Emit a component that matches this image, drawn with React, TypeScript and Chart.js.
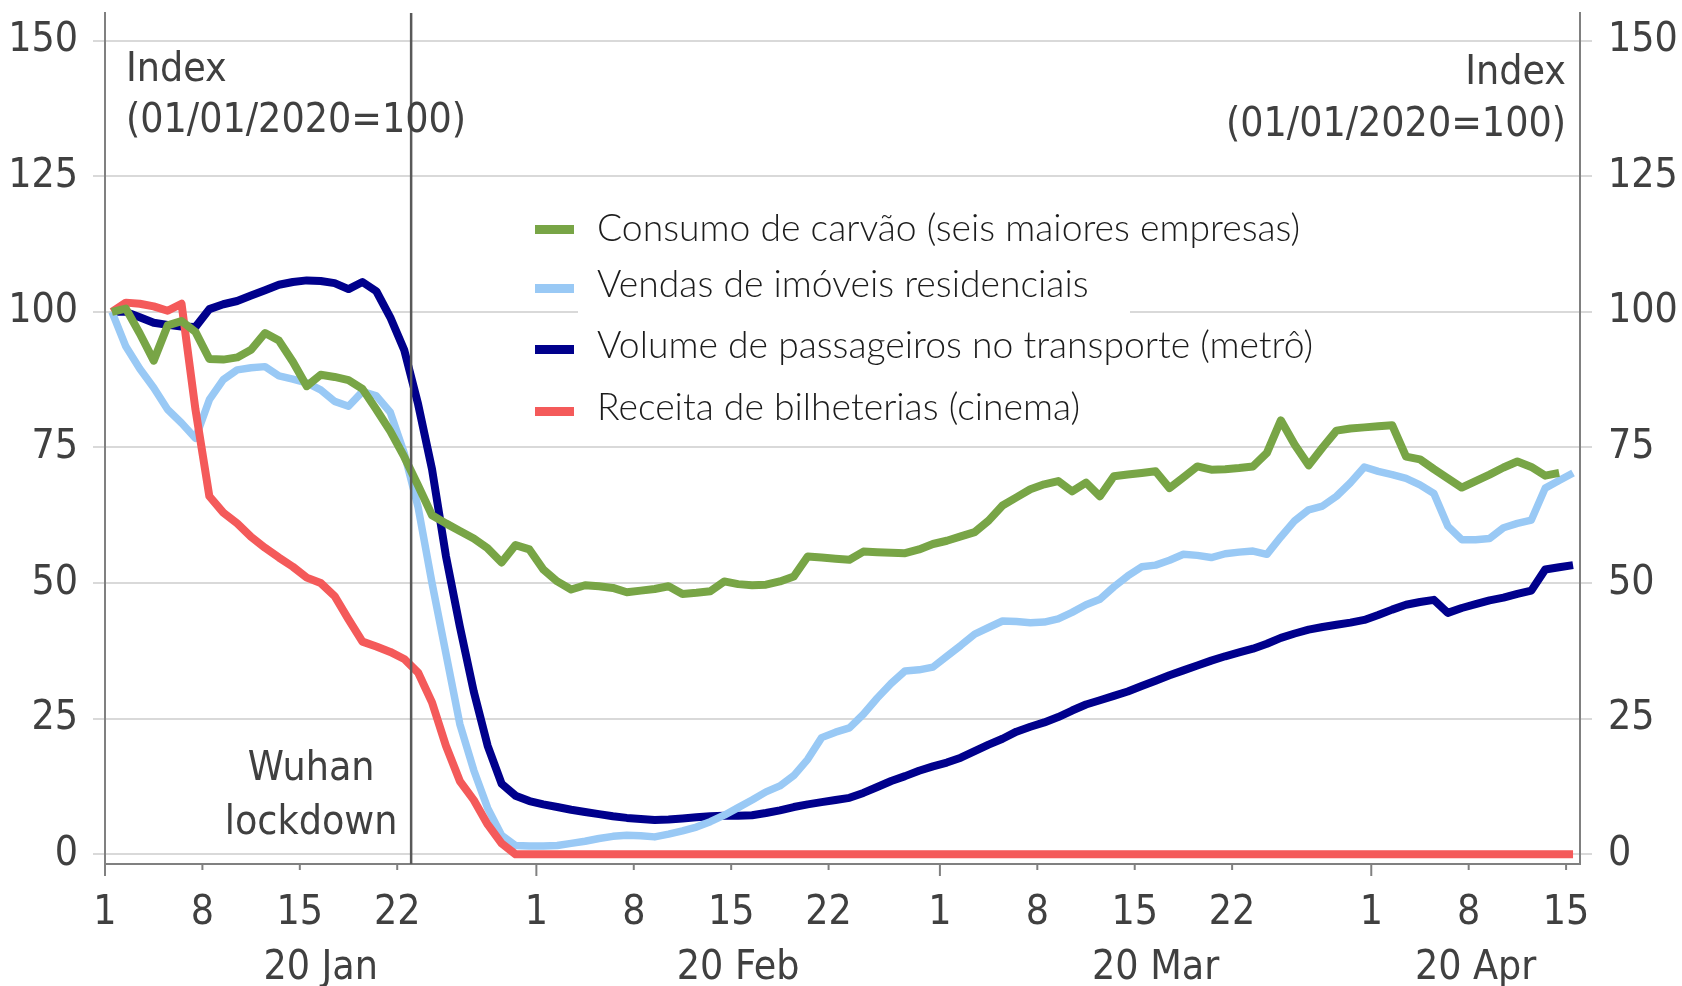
import React, { useEffect, useRef } from "react";
import { Chart, registerables } from "chart.js";

Chart.register(...registerables);

// ---- data (one value per day, 1 Jan 2020 .. 15 Apr 2020) ----
const coal = [
  100, 100.6, 96, 91, 97.5, 98.3, 96.3, 91.3, 91.2, 91.6,
  93, 96.1, 94.7, 90.8, 86.3, 88.4, 88, 87.4, 85.8, 82,
  78, 73.3, 68, 62.5, 61, 59.6, 58.2, 56.4, 53.8, 57,
  56.2, 52.5, 50.3, 48.8, 49.6, 49.4, 49.1, 48.3, 48.6, 48.9,
  49.4, 48, 48.2, 48.5, 50.3, 49.8, 49.6, 49.7, 50.3, 51.2,
  54.9, 54.7, 54.5, 54.3, 55.8, 55.7, 55.6, 55.5, 56.2, 57.2,
  57.8, 58.6, 59.4, 61.5, 64.3, 65.8, 67.3, 68.2, 68.8, 66.9,
  68.5, 66, 69.7, 70, 70.3, 70.6, 67.5, 69.5, 71.5, 70.9,
  71, 71.2, 71.5, 74, 80, 75.5, 71.7, 75, 78.1, 78.5,
  78.7, 78.9, 79.1, 73.3, 72.8, 71, 69.3, 67.6, 68.8, 70,
  71.3, 72.4, 71.4, 69.8, 70.3, null,
];

const housing = [
  100, 93.6, 89.5, 86, 82, 79.5, 76.7, 83.8, 87.5, 89.3,
  89.7, 89.9, 88.2, 87.6, 86.9, 85.6, 83.5, 82.6, 85.3, 84.5,
  81.5, 74, 64, 50, 37, 24, 15.5, 8.5, 3.5, 1.6,
  1.5, 1.5, 1.6, 2, 2.4, 2.9, 3.3, 3.5, 3.4, 3.2,
  3.7, 4.3, 5, 6, 7.2, 8.6, 10, 11.5, 12.6, 14.5,
  17.5, 21.5, 22.5, 23.3, 25.8, 28.8, 31.5, 33.8, 34, 34.5,
  36.5, 38.5, 40.6, 41.8, 43, 42.9, 42.7, 42.8, 43.4, 44.6,
  46, 47, 49.3, 51.3, 53, 53.3, 54.2, 55.3, 55.1, 54.7,
  55.4, 55.7, 55.9, 55.3, 58.5, 61.5, 63.5, 64.2, 66, 68.5,
  71.4, 70.6, 70, 69.3, 68.1, 66.5, 60.5, 58, 58, 58.2,
  60.2, 61, 61.6, 67.5, 68.9, 70.3,
];

const metro = [
  100, 100, 99, 98, 97.6, 97.3, 97.2, 100.5, 101.4, 102,
  103, 104, 105, 105.5, 105.8, 105.7, 105.3, 104.2, 105.5, 103.8,
  99, 93, 83, 71, 55, 42, 30, 20, 13, 10.8,
  9.8, 9.2, 8.7, 8.2, 7.8, 7.4, 7, 6.7, 6.5, 6.3,
  6.4, 6.6, 6.8, 7, 7.1, 7.1, 7.2, 7.6, 8.1, 8.7,
  9.2, 9.6, 10, 10.4, 11.3, 12.4, 13.5, 14.4, 15.4, 16.2,
  16.9, 17.8, 19, 20.2, 21.3, 22.6, 23.5, 24.3, 25.3, 26.5,
  27.6, 28.4, 29.2, 30, 31, 32, 33, 33.9, 34.8, 35.7,
  36.5, 37.2, 37.9, 38.8, 39.9, 40.7, 41.4, 41.9, 42.3, 42.7,
  43.2, 44.1, 45.1, 46, 46.5, 46.9, 44.5, 45.4, 46.1, 46.8,
  47.3, 48, 48.6, 52.5, 52.9, 53.3,
];

const cinema = [
  100, 101.7, 101.5, 101, 100.2, 101.5, 82, 66, 63, 61,
  58.5, 56.5, 54.7, 53, 51, 50, 47.6, 43.3, 39.2, 38.3,
  37.3, 36, 33.5, 28, 20, 13.5, 10, 5.5, 2, 0,
  0, 0, 0, 0, 0, 0, 0, 0, 0, 0,
  0, 0, 0, 0, 0, 0, 0, 0, 0, 0,
  0, 0, 0, 0, 0, 0, 0, 0, 0, 0,
  0, 0, 0, 0, 0, 0, 0, 0, 0, 0,
  0, 0, 0, 0, 0, 0, 0, 0, 0, 0,
  0, 0, 0, 0, 0, 0, 0, 0, 0, 0,
  0, 0, 0, 0, 0, 0, 0, 0, 0, 0,
  0, 0, 0, 0, 0, 0,
];

const seriesLabels = [
  "Consumo de carvão (seis maiores empresas)",
  "Vendas de imóveis residenciais",
  "Volume de passageiros no transporte (metrô)",
  "Receita de bilheterias (cinema)",
];
const seriesColors = ["#78a546", "#99c9f5", "#00008c", "#f45a5a"];
const seriesOrder = [0, 2, 3, 1];

// x axis: day index from 1 Jan (0) ; each day occupies [d, d+1]
const tickDays = [0, 7, 14, 21, 31, 38, 45, 52, 60, 67, 74, 81, 91, 98, 105];
const tickLabels = ["1", "8", "15", "22", "1", "8", "15", "22", "1", "8", "15", "22", "1", "8", "15"];
const monthStarts = [0, 31, 60, 91];
const monthCenters = [15.5, 45.5, 75.5, 98.5];
const monthLabels = ["20 Jan", "20 Feb", "20 Mar", "20 Apr"];
const yTicks = [0, 25, 50, 75, 100, 125, 150];
const lockdownDay = 22;
const indexTitle = ["Index", "(01/01/2020=100)"];
const lockdownText = ["Wuhan", "lockdown"];

const AXIS_FAMILY = "'Liberation Sans Narrow', 'DejaVu Sans Condensed', 'Liberation Sans', sans-serif";
const LEGEND_FAMILY = "Lato, 'Open Sans', sans-serif";
const TEXT_COLOR = "#404040";

function fitSize(text: string, font: string, target: number) {
  const c = document.createElement("canvas").getContext("2d")!;
  c.font = `${font} 100px ${font === "300" ? LEGEND_FAMILY : AXIS_FAMILY}`;
  const w = c.measureText(text).width;
  return (100 * target) / w;
}

export default function App() {
  const ref = useRef<HTMLCanvasElement | null>(null);

  useEffect(() => {
    if (!ref.current) return;
    const axisSize = Math.round(fitSize(indexTitle[1], "normal", 340) * 10) / 10;
    const legendSize = Math.round(fitSize(seriesLabels[0], "300", 703) * 10) / 10;
    const axisFont = { family: AXIS_FAMILY, size: axisSize };

    const datasets = [coal, housing, metro, cinema].map((arr, k) => ({
      label: seriesLabels[k],
      data: arr.map((v, i) => ({ x: i + 0.5, y: v })),
      borderColor: seriesColors[k],
      backgroundColor: seriesColors[k],
      borderWidth: k === 1 ? 7.5 : 8,
      pointRadius: 0,
      tension: 0,
      borderJoinStyle: "round" as const,
      borderCapStyle: "butt" as const,
      order: seriesOrder[k],
      xAxisID: "x",
      yAxisID: "y",
    }));

    const overlay = {
      id: "overlay",
      beforeDatasetsDraw(chart: any) {
        const ctx = chart.ctx;
        ctx.save();
        ctx.fillStyle = "#ffffff";
        ctx.fillRect(578, 196, 552, 119);
        ctx.restore();
      },
      afterDatasetsDraw(chart: any) {
        const { ctx, chartArea, scales } = chart;
        const xs = scales.x;
        ctx.save();
        // lockdown line
        const lx = xs.getPixelForValue(lockdownDay);
        ctx.strokeStyle = "#595959";
        ctx.lineWidth = 2.5;
        ctx.beginPath();
        ctx.moveTo(lx, chartArea.top);
        ctx.lineTo(lx, chartArea.bottom);
        ctx.stroke();
        // x tick marks
        ctx.strokeStyle = "#808080";
        ctx.lineWidth = 2;
        tickDays.forEach((d) => {
          const px = xs.getPixelForValue(d);
          const len = monthStarts.includes(d) ? 12 : 6;
          ctx.beginPath();
          ctx.moveTo(px, chartArea.bottom);
          ctx.lineTo(px, chartArea.bottom + len);
          ctx.stroke();
        });
        // annotations
        ctx.fillStyle = TEXT_COLOR;
        ctx.font = `normal ${axisSize}px ${AXIS_FAMILY}`;
        ctx.textBaseline = "alphabetic";
        ctx.textAlign = "left";
        ctx.fillText(indexTitle[0], chartArea.left + 21, 81);
        ctx.fillText(indexTitle[1], chartArea.left + 21, 131.5);
        ctx.textAlign = "right";
        ctx.fillText(indexTitle[0], chartArea.right - 14, 84);
        ctx.fillText(indexTitle[1], chartArea.right - 14, 136);
        ctx.textAlign = "center";
        ctx.fillText(lockdownText[0], lx - 100, 780);
        ctx.fillText(lockdownText[1], lx - 100, 834);
        // legend
        const rows = [228.5, 284.5, 345.5, 407.5];
        const legendIdx = [0, 1, 2, 3];
        ctx.font = `300 ${legendSize}px ${LEGEND_FAMILY}`;
        ctx.textAlign = "left";
        ctx.textBaseline = "middle";
        legendIdx.forEach((k, r) => {
          ctx.fillStyle = seriesColors[k];
          ctx.fillRect(535, rows[r] - 3.5 + (r === 0 ? 0 : 3), 39, 9);
          ctx.fillStyle = "#1c1c1c";
          ctx.fillText(seriesLabels[k], 597, rows[r]);
        });
        ctx.restore();
      },
    };

    const chart = new Chart(ref.current, {
      type: "line",
      data: { datasets },
      plugins: [overlay],
      options: {
        responsive: false,
        devicePixelRatio: 1,
        animation: false,
        layout: { padding: { top: 13, left: 0, right: 0, bottom: 0 } },
        plugins: { legend: { display: false }, tooltip: { enabled: false } },
        scales: {
          x: {
            type: "linear",
            position: "bottom",
            min: 0,
            max: 106,
            weight: 0,
            afterBuildTicks: (s: any) => {
              s.ticks = tickDays.map((v) => ({ value: v }));
            },
            afterFit: (s: any) => {
              s.height = 72;
              s.paddingLeft = 0;
              s.paddingRight = 0;
            },
            grid: { display: false },
            border: { display: true, color: "#808080", width: 2 },
            ticks: {
              autoSkip: false,
              maxRotation: 0,
              minRotation: 0,
              padding: 17,
              color: TEXT_COLOR,
              font: axisFont,
              callback: (_v: any, i: number) => tickLabels[i],
            },
          },
          x2: {
            type: "linear",
            position: "bottom",
            min: 0,
            max: 106,
            weight: 1,
            afterBuildTicks: (s: any) => {
              s.ticks = monthCenters.map((v) => ({ value: v }));
            },
            afterFit: (s: any) => {
              s.height = 50;
              s.paddingLeft = 0;
              s.paddingRight = 0;
            },
            grid: { display: false },
            border: { display: false },
            ticks: {
              autoSkip: false,
              maxRotation: 0,
              minRotation: 0,
              padding: 0,
              color: TEXT_COLOR,
              font: axisFont,
              callback: (_v: any, i: number) => monthLabels[i],
            },
          },
          y: {
            type: "linear",
            position: "left",
            min: -1.8,
            max: 155.1,
            afterBuildTicks: (s: any) => {
              s.ticks = yTicks.map((v) => ({ value: v }));
            },
            afterFit: (s: any) => {
              s.width = 105;
              s.paddingTop = 0;
              s.paddingBottom = 0;
            },
            grid: { color: "#d9d9d9", lineWidth: 2, tickLength: 12, tickColor: "#d9d9d9" },
            border: { display: true, color: "#808080", width: 2 },
            ticks: { padding: 15, color: TEXT_COLOR, font: axisFont },
          },
          y2: {
            type: "linear",
            position: "right",
            min: -1.8,
            max: 155.1,
            afterBuildTicks: (s: any) => {
              s.ticks = yTicks.map((v) => ({ value: v }));
            },
            afterFit: (s: any) => {
              s.width = 102;
              s.paddingTop = 0;
              s.paddingBottom = 0;
            },
            grid: { drawOnChartArea: false, color: "#d9d9d9", lineWidth: 2, tickLength: 12, tickColor: "#d9d9d9" },
            border: { display: true, color: "#808080", width: 2 },
            ticks: { padding: 16, color: TEXT_COLOR, font: axisFont },
          },
        },
      } as any,
    });
    return () => chart.destroy();
  }, []);

  return (
    <div style={{ position: "fixed", left: 0, top: 0, width: 1682, height: 986, background: "#ffffff" }}>
      <canvas ref={ref} width={1682} height={986} style={{ display: "block" }} />
    </div>
  );
}
